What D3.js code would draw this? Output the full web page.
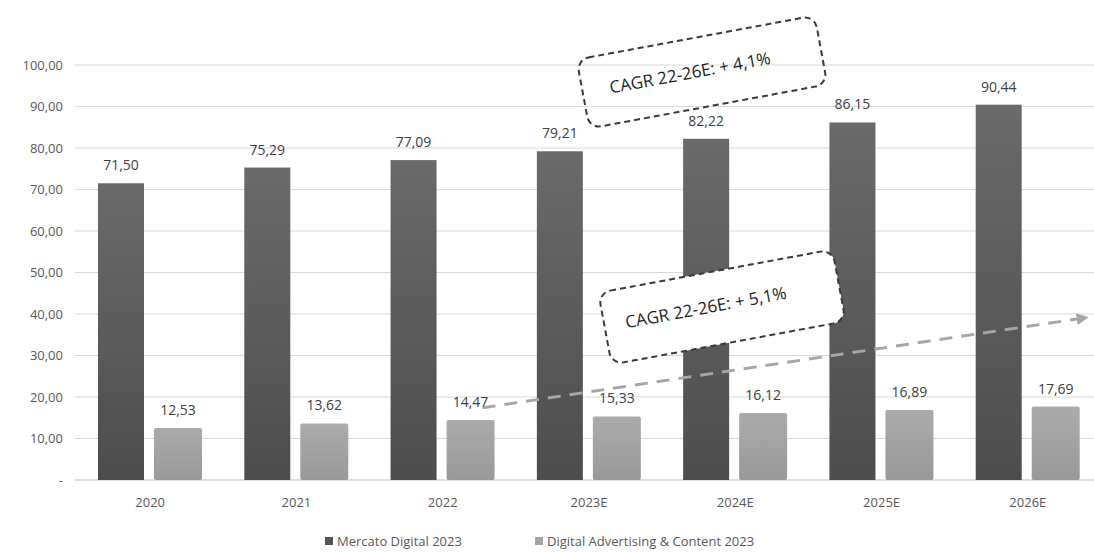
<!DOCTYPE html>
<html>
<head>
<meta charset="utf-8">
<script src="https://cdn.jsdelivr.net/npm/d3@7"></script>
<style>
	body { margin: 0; background: #fff; }
	svg { display: block; }
</style>
</head>
<body>
<div id="chart"></div>
<script>

var years    = ['2020', '2021', '2022', '2023E', '2024E', '2025E', '2026E'];
var mercato  = [71.50, 75.29, 77.09, 79.21, 82.22, 86.15, 90.44];
var advert   = [12.53, 13.62, 14.47, 15.33, 16.12, 16.89, 17.69];
var yTicks   = [0, 10, 20, 30, 40, 50, 60, 70, 80, 90, 100];
var seriesNames = ['Mercato Digital 2023', 'Digital Advertising & Content 2023'];
var cagrLabels  = ['CAGR 22-26E: + 4,1%', 'CAGR 22-26E: + 5,1%'];

var width = 1094;
var height = 552;
var font = '"Open Sans", "Noto Sans", sans-serif';

var fmt = function (v) {
	return v === 0 ? '-' : v.toFixed(2).replace('.', ',');
};

var svg = d3.select('#chart')
		.append('svg')
		.attr('width', width)
		.attr('height', height);

var defs = svg.append('defs');

var gDark = defs.append('linearGradient')
		.attr('id', 'gDark')
		.attr('x1', 0).attr('y1', 0).attr('x2', 0).attr('y2', 1);
gDark.append('stop').attr('offset', '0%').attr('stop-color', '#6a6a6a');
gDark.append('stop').attr('offset', '100%').attr('stop-color', '#4d4d4d');

var gLight = defs.append('linearGradient')
		.attr('id', 'gLight')
		.attr('x1', 0).attr('y1', 0).attr('x2', 0).attr('y2', 1);
gLight.append('stop').attr('offset', '0%').attr('stop-color', '#ababab');
gLight.append('stop').attr('offset', '100%').attr('stop-color', '#999999');

// scales
var x = d3.scaleBand()
		.domain(years)
		.range([77, 1101]);

var y = d3.scaleLinear()
		.domain([0, 100])
		.range([480, 65]);

var barW = 46;
var gap = 10;
var pad = 21;

// gridlines
svg.append('g')
		.selectAll('line')
		.data(yTicks)
		.enter()
		.append('line')
		.attr('x1', 75)
		.attr('x2', width)
		.attr('y1', function (d) { return y(d); })
		.attr('y2', function (d) { return y(d); })
		.attr('stroke', function (d) { return d === 0 ? '#bfbfbf' : '#d9d9d9'; })
		.attr('stroke-width', 1);

// y axis labels
var yAxis = d3.axisLeft(y)
		.tickValues(yTicks)
		.tickFormat(fmt)
		.tickSize(0)
		.tickPadding(0);

svg.append('g')
		.attr('transform', 'translate(63,0)')
		.call(yAxis)
		.call(function (g) { g.select('.domain').remove(); })
		.selectAll('text')
		.attr('font-family', font)
		.attr('font-size', '13px')
		.attr('fill', '#595959');

// x axis labels
var xAxis = d3.axisBottom(x)
		.tickSize(0)
		.tickPadding(0);

svg.append('g')
		.attr('transform', 'translate(0,498)')
		.call(xAxis)
		.call(function (g) { g.select('.domain').remove(); })
		.selectAll('text')
		.attr('font-family', font)
		.attr('font-size', '13px')
		.attr('fill', '#595959');

// dark bars
svg.append('g')
		.selectAll('rect')
		.data(mercato)
		.enter()
		.append('rect')
		.attr('x', function (d, i) { return x(years[i]) + pad; })
		.attr('y', function (d) { return y(d); })
		.attr('width', barW)
		.attr('height', function (d) { return y(0) - y(d); })
		.attr('fill', 'url(#gDark)');

// light bars
svg.append('g')
		.selectAll('rect')
		.data(advert)
		.enter()
		.append('rect')
		.attr('x', function (d, i) { return x(years[i]) + pad + barW + gap; })
		.attr('y', function (d) { return y(d); })
		.attr('width', barW + 2)
		.attr('height', function (d) { return y(0) - y(d); })
		.attr('rx', 2)
		.attr('fill', 'url(#gLight)');

// value labels
svg.append('g')
		.selectAll('text')
		.data(mercato)
		.enter()
		.append('text')
		.attr('x', function (d, i) { return x(years[i]) + pad + barW / 2; })
		.attr('y', function (d) { return y(d) - 13; })
		.attr('text-anchor', 'middle')
		.attr('font-family', font)
		.attr('font-size', '14px')
		.attr('fill', '#404040')
		.text(fmt);

svg.append('g')
		.selectAll('text')
		.data(advert)
		.enter()
		.append('text')
		.attr('x', function (d, i) { return x(years[i]) + pad + barW + gap + (barW + 2) / 2; })
		.attr('y', function (d) { return y(d) - 13; })
		.attr('text-anchor', 'middle')
		.attr('font-family', font)
		.attr('font-size', '14px')
		.attr('fill', '#404040')
		.text(fmt);

// trend arrow (dashed, light grey)
defs.append('marker')
		.attr('id', 'arrow')
		.attr('viewBox', '0 0 10 10')
		.attr('refX', 5).attr('refY', 5)
		.attr('markerWidth', 4).attr('markerHeight', 4)
		.attr('orient', 'auto')
		.append('path')
		.attr('d', 'M0,0L10,5L0,10Z')
		.attr('fill', '#a6a6a6');

svg.append('line')
		.attr('x1', x('2022') + 113)
		.attr('y1', y(17.4))
		.attr('x2', x('2026E') + 128)
		.attr('y2', y(39.0))
		.attr('stroke', '#a6a6a6')
		.attr('stroke-width', 3)
		.attr('stroke-dasharray', '13,9')
		.attr('marker-end', 'url(#arrow)');

// CAGR callouts
var callouts = [
	{ cx: 702, cy: 72, w: 242, h: 70, tx: 690, ty: 72, fill: 'none' },
	{ cx: 722, cy: 307, w: 238, h: 73, tx: 706, ty: 306, fill: '#fff' }
];

callouts.forEach(function (c, i) {
	var g = svg.append('g')
			.attr('transform', 'rotate(-10.5,' + c.cx + ',' + c.cy + ')');

	g.append('rect')
			.attr('x', c.cx - c.w / 2)
			.attr('y', c.cy - c.h / 2)
			.attr('width', c.w)
			.attr('height', c.h)
			.attr('rx', 12)
			.attr('fill', c.fill)
			.attr('stroke', '#3a3a3a')
			.attr('stroke-width', 2)
			.attr('stroke-dasharray', '6,4');

	g.append('text')
			.attr('x', c.tx)
			.attr('y', c.ty)
			.attr('text-anchor', 'middle')
			.attr('dominant-baseline', 'middle')
			.attr('font-family', font)
			.attr('font-size', '17px')
			.attr('fill', '#1f1f1f')
			.text(cagrLabels[i]);
});

// legend
var legend = [
	{ x: 325, color: '#555555' },
	{ x: 535, color: '#a6a6a6' }
];

legend.forEach(function (l, i) {
	svg.append('rect')
			.attr('x', l.x)
			.attr('y', 537)
			.attr('width', 8)
			.attr('height', 8)
			.attr('fill', l.color);

	svg.append('text')
			.attr('x', l.x + 12)
			.attr('y', 546)
			.attr('font-family', font)
			.attr('font-size', '13px')
			.attr('fill', '#595959')
			.text(seriesNames[i]);
});

</script>
</body>
</html>
